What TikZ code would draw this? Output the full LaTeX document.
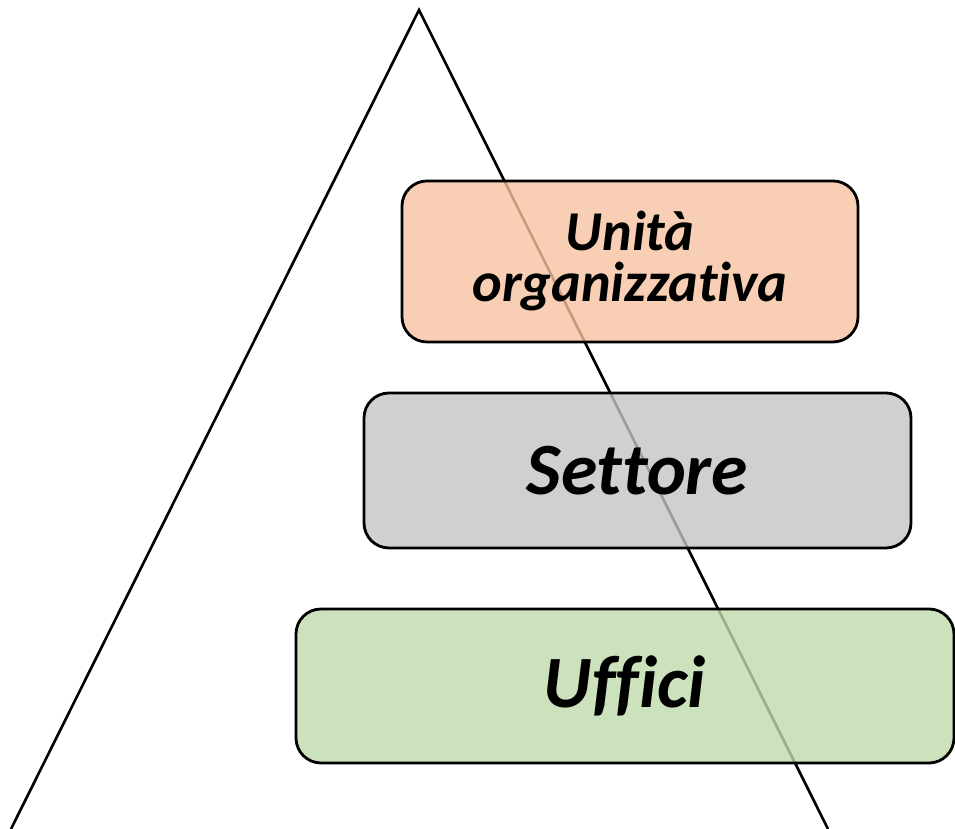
\documentclass[tikz,border=0pt]{standalone}
\usepackage{fontspec}
\setmainfont[Ligatures={NoCommon,NoContextual}]{Carlito}
\definecolor{peach}{HTML}{F6C3A1}
\definecolor{greybox}{HTML}{C4C4C4}
\definecolor{greenbox}{HTML}{BFDBAB}
\tikzset{
  levelbox/.style={draw=black, line width=1.6pt, rounded corners=0.5cm, fill opacity=0.8, text opacity=1, align=center, inner sep=0pt},
}
\begin{document}
\begin{tikzpicture}
% Page size of the picture
\useasboundingbox (0,0) rectangle (19.1,16.58);

% The pyramid sides
\coordinate (apex) at (8.38,16.38);
\coordinate (baseL) at (0.22,0);
\coordinate (baseR) at (16.56,0);
\draw[line width=1.5pt] (baseL) -- (apex) -- (baseR);

% The three levels
\node[levelbox, fill=peach, minimum width=9.12cm, minimum height=3.22cm, font=\fontsize{32}{29}\selectfont\bfseries\itshape] (unita) at (12.6,11.35) {Unità\\organizzativa};
\node[levelbox, fill=greybox, minimum width=10.94cm, minimum height=3.1cm, font=\fontsize{42}{44}\selectfont\bfseries\itshape] (settore) at (12.75,7.17) {Settore};
\node[levelbox, fill=greenbox, minimum width=13.16cm, minimum height=3.08cm, font=\fontsize{42}{44}\selectfont\bfseries\itshape] (uffici) at (12.5,2.86) {Uffici};
\end{tikzpicture}
\end{document}
